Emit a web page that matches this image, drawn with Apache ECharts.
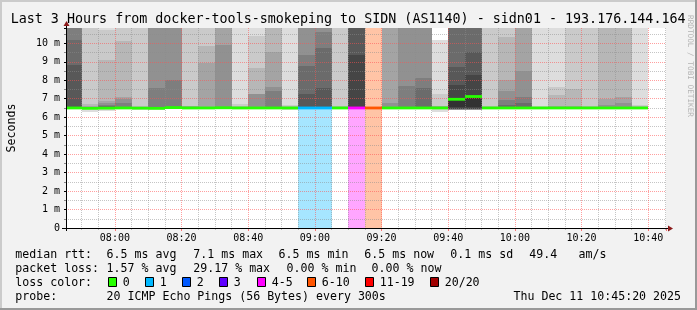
<!DOCTYPE html>
<html><head><meta charset="utf-8">
<script src="https://cdn.jsdelivr.net/npm/echarts@6/dist/echarts.min.js"></script>
<style>html,body{margin:0;padding:0;background:#f2f2f2}#c{width:697px;height:310px}</style>
</head><body><div id="c"></div>
<script>
// ---- data ----
const binTimes = ['07:45','07:50','07:55','08:00','08:05','08:10','08:15','08:20','08:25','08:30',
  '08:35','08:40','08:45','08:50','08:55','09:00','09:05','09:10','09:15','09:20',
  '09:25','09:30','09:35','09:40','09:45','09:50','09:55','10:00','10:05','10:10',
  '10:15','10:20','10:25','10:30','10:35'];
const medianMs = [6.5,6.48,6.49,6.5,6.49,6.48,6.52,6.5,6.5,6.51,
  6.5,6.5,6.5,6.5,6.5,6.5,6.5,6.5,6.5,6.5,
  6.5,6.5,6.5,6.97,7.12,6.5,6.5,6.5,6.5,6.5,
  6.5,6.5,6.5,6.5,6.5];
const lostPings = [0,0,0,0,0,0,0,0,0,0,
  0,0,0,0,1,1,0,4,6,0,
  0,0,0,0,0,0,0,0,0,0,
  0,0,0,0,0];
// 20 sorted ping rtts per bin (ms)
const pingsMs = [
  [6.44,6.45,6.46,6.46,6.47,6.47,6.48,6.48,6.49,6.49,6.5,6.52,8.83,10.18,11.3,11.9,12.6,13.4,14.8,17.2],
  [6.3,6.42,6.44,6.45,6.46,6.46,6.47,6.47,6.47,6.47,6.48,6.5,6.52,6.53,6.55,6.57,6.6,6.73,11.6,13.9],
  [6.32,6.42,6.44,6.45,6.46,6.46,6.47,6.47,6.48,6.48,6.49,6.52,6.55,6.6,6.68,6.76,6.88,9.1,10.72,11.9],
  [6.44,6.45,6.46,6.46,6.47,6.47,6.48,6.48,6.49,6.49,6.5,6.51,6.53,6.57,6.79,7.0,7.1,10.15,11.4,13.1],
  [6.4,6.44,6.45,6.46,6.46,6.47,6.47,6.48,6.48,6.49,6.49,6.5,6.51,6.52,6.53,6.54,6.56,6.6,11.8,14.2],
  [6.38,6.43,6.44,6.45,6.46,6.46,6.47,6.47,6.48,6.48,6.48,6.5,6.52,6.55,7.57,11.1,11.7,12.4,13.3,15.6],
  [6.46,6.47,6.48,6.48,6.49,6.49,6.5,6.5,6.51,6.51,6.52,6.53,6.54,6.56,8.02,11.2,11.9,12.7,13.8,16.1],
  [6.44,6.45,6.46,6.46,6.47,6.47,6.48,6.48,6.49,6.49,6.5,6.51,6.52,6.53,6.54,6.56,6.58,6.6,11.5,13.6],
  [6.44,6.45,6.46,6.46,6.47,6.47,6.48,6.48,6.49,6.49,6.5,6.51,6.52,6.53,6.54,6.56,8.95,9.85,11.3,13.2],
  [6.45,6.46,6.47,6.47,6.48,6.48,6.49,6.49,6.5,6.5,6.51,6.52,6.53,6.54,6.56,9.9,11.2,11.9,12.8,14.7],
  [6.44,6.45,6.46,6.46,6.47,6.47,6.48,6.48,6.49,6.49,6.5,6.51,6.52,6.53,6.54,6.55,6.56,6.6,6.7,12.3],
  [6.44,6.45,6.46,6.46,6.47,6.47,6.48,6.48,6.49,6.49,6.5,6.51,6.52,6.53,6.56,7.24,7.25,8.67,10.37,11.6],
  [6.44,6.45,6.46,6.46,6.47,6.47,6.48,6.48,6.49,6.49,6.5,6.51,6.52,6.56,7.43,7.62,9.55,11.4,12.2,13.8],
  [6.38,6.44,6.45,6.46,6.46,6.47,6.47,6.48,6.48,6.49,6.5,6.51,6.52,6.53,6.54,6.55,6.56,6.58,6.68,12.5],
  [6.44,6.45,6.46,6.46,6.47,6.47,6.48,6.48,6.49,6.49,6.5,6.56,7.25,8.77,9.37,11.3,11.9,12.7,13.6,15.2],
  [6.44,6.45,6.46,6.46,6.47,6.47,6.48,6.48,6.49,6.49,6.5,6.56,7.57,9.75,10.63,11.5,12.1,12.9,13.9,16.0],
  [6.44,6.45,6.46,6.46,6.47,6.47,6.48,6.48,6.49,6.49,6.5,6.51,6.52,6.53,6.54,6.55,6.57,6.6,11.7,14.1],
  [6.44,6.45,6.46,6.46,6.47,6.47,6.48,6.48,6.49,6.49,6.5,9.38,11.4,12.0,12.8,13.7,15.1,16.4,18.0,20.5],
  null,
  [6.44,6.45,6.46,6.46,6.47,6.47,6.48,6.48,6.49,6.49,6.5,6.51,6.52,6.54,6.56,6.79,11.3,12.0,12.9,14.4],
  [6.44,6.45,6.46,6.46,6.47,6.47,6.48,6.48,6.49,6.49,6.5,6.52,6.54,6.56,7.67,11.2,11.8,12.6,13.7,15.3],
  [6.44,6.45,6.46,6.46,6.47,6.47,6.48,6.48,6.49,6.49,6.5,6.52,6.56,7.6,8.1,11.3,11.9,12.8,13.9,15.8],
  [6.3,6.42,6.44,6.45,6.46,6.47,6.47,6.48,6.48,6.49,6.5,6.51,6.52,6.53,6.54,6.56,6.58,6.62,7.25,10.18],
  [6.38,6.39,6.4,6.41,6.41,6.42,6.42,6.42,6.43,6.57,6.97,7.73,8.73,11.2,11.8,12.5,13.3,14.2,15.6,18.0],
  [6.38,6.39,6.4,6.41,6.41,6.42,6.42,6.42,6.43,6.57,7.12,8.28,9.55,11.3,12.0,12.7,13.5,14.6,16.0,18.5],
  [6.44,6.45,6.46,6.46,6.47,6.47,6.48,6.48,6.49,6.49,6.5,6.51,6.52,6.53,6.54,6.55,6.56,6.58,11.6,13.8],
  [6.44,6.45,6.46,6.46,6.47,6.47,6.48,6.48,6.49,6.49,6.5,6.52,6.56,6.66,6.94,7.44,8.02,10.36,11.5,13.2],
  [6.44,6.45,6.46,6.46,6.47,6.47,6.48,6.48,6.49,6.49,6.5,6.52,6.55,6.79,7.08,8.52,11.3,12.0,12.9,14.6],
  [6.44,6.45,6.46,6.46,6.47,6.47,6.48,6.48,6.49,6.49,6.5,6.51,6.52,6.53,6.54,6.55,6.56,6.57,6.6,12.4],
  [6.44,6.45,6.46,6.46,6.47,6.47,6.48,6.48,6.49,6.49,6.5,6.51,6.52,6.53,6.54,6.55,6.6,7.2,7.65,11.9],
  [6.44,6.45,6.46,6.46,6.47,6.47,6.48,6.48,6.49,6.49,6.5,6.51,6.52,6.53,6.54,6.55,6.6,7.5,11.4,13.5],
  [6.44,6.45,6.46,6.46,6.47,6.47,6.48,6.48,6.49,6.49,6.5,6.51,6.52,6.53,6.54,6.55,6.57,6.6,11.6,13.7],
  [6.44,6.45,6.46,6.46,6.47,6.47,6.48,6.48,6.49,6.49,6.5,6.51,6.52,6.53,6.55,6.68,7.0,11.3,12.1,14.0],
  [6.44,6.45,6.46,6.46,6.47,6.47,6.48,6.48,6.49,6.49,6.5,6.51,6.52,6.53,6.55,6.76,7.11,11.4,12.2,14.3],
  [6.44,6.45,6.46,6.46,6.47,6.47,6.48,6.48,6.49,6.49,6.5,6.51,6.52,6.53,6.54,6.55,6.56,6.58,6.66,12.1]
];
const lossBuckets = [0,1,2,3,5,10,19,20];
const lossLabels = ['0','1','2','3','4-5','6-10','11-19','20/20'];
const lossColors = ['#26ff00','#00b8ff','#0059ff','#5e00ff','#ff00ff','#ff5500','#ff0000','#a10000'];
const smokeGrays = ['#dddddd','#cacaca','#b7b7b7','#a4a4a4','#919191','#7e7e7e','#6b6b6b','#585858','#454545','#323232'];
const titleText = 'Last 3 Hours from docker-tools-smokeping to SIDN (AS1140) - sidn01 - 193.176.144.164';
const statRows = [
  [['median rtt:',16],['6.5 ms avg',107.3],['7.1 ms max',194],['6.5 ms min',279.3],['6.5 ms now',365],['0.1 ms sd',451],['49.4',530],['am/s',579.3]],
  [['packet loss:',16],['1.57 % avg',107.3],['29.17 % max',194],['0.00 % min',287.3],['0.00 % now',372.3]],
  [['loss color:',16]],
  [['probe:',16],['20 ICMP Echo Pings (56 Bytes) every 300s',107.3]]
];
const dateText = 'Thu Dec 11 10:45:20 2025';

// ---- helpers ----
const toMin = s => { const p = s.split(':'); return +p[0]*60 + +p[1]; };
const X_MIN = toMin('07:45') + 20/60;
const X_MAX = X_MIN + 180;
const Y_MAX = 10.83;
const STEP = 5;
const MONO = '"DejaVu Sans Mono"';
const lossIndex = n => { for (let k = 0; k < lossBuckets.length; k++) if (n <= lossBuckets[k]) return k; return lossBuckets.length-1; };
const pad = n => (n < 10 ? '0' : '') + n;

const binData = binTimes.map((t, i) => [toMin(t), toMin(t) + STEP, medianMs[i], i]);

function xRange(api, s, e) {
  const x0 = Math.round(api.coord([Math.max(s, X_MIN), 0])[0]);
  const x1 = Math.round(api.coord([Math.min(e, X_MAX), 0])[0]);
  return [x0, x1];
}
function yPix(api, v) {
  return Math.round(api.coord([X_MIN, Math.min(Math.max(v, 0), Y_MAX)])[1]);
}

function renderSmoke(params, api) {
  const i = api.value(3);
  const [x0, x1] = xRange(api, api.value(0), api.value(1));
  const children = [];
  const lost = lostPings[i];
  if (lost > 0) {
    const yt = yPix(api, Y_MAX), yb = yPix(api, 0);
    children.push({type:'rect', shape:{x:x0, y:yt, width:x1-x0, height:yb-yt},
      style:{fill: lossColors[lossIndex(lost)], opacity:0.35}});
  }
  const p = pingsMs[i];
  if (p) {
    for (let j = 1; j < p.length; j++) {
      const layer = Math.min(j, p.length - j);
      const yl = yPix(api, p[j-1]), yh = yPix(api, p[j]);
      if (yl - yh >= 1) {
        children.push({type:'rect', shape:{x:x0, y:yh, width:x1-x0, height:yl-yh},
          style:{fill: smokeGrays[layer-1]}});
      }
    }
  }
  return {type:'group', children};
}
function renderMedian(params, api) {
  const i = api.value(3);
  const [x0, x1] = xRange(api, api.value(0), api.value(1));
  const y = api.coord([X_MIN, api.value(2)])[1];
  return {type:'rect', shape:{x:x0, y:y-1.4, width:x1-x0, height:2.8},
    style:{fill: lossColors[lossIndex(lostPings[i])]}};
}

// ---- graphic texts ----
const graphics = [];
graphics.push({type:'text', z:50, style:{text:titleText, x:10.7, y:19.8, font:'13.35px '+MONO, fill:'#000', verticalAlign:'middle'}});
const rowY = [255.2, 269.2, 283.2, 297.2];
statRows.forEach((row, r) => row.forEach(([t, x]) => {
  graphics.push({type:'text', z:50, style:{text:t, x:x-0.7, y:rowY[r], font:'11.6px '+MONO, fill:'#000', verticalAlign:'middle'}});
}));
graphics.push({type:'text', z:50, style:{text:dateText, x:681, y:rowY[3], font:'11.6px '+MONO, fill:'#000', align:'right', verticalAlign:'middle'}});
const boxX = [108.5,145.5,182.5,219.5,257.5,307.5,365.5,430.5];
lossLabels.forEach((lab, k) => {
  graphics.push({type:'rect', z:50, shape:{x:boxX[k], y:277.5, width:8, height:9}, style:{fill:lossColors[k], stroke:'#000', lineWidth:1}});
  graphics.push({type:'text', z:50, style:{text:lab, x:boxX[k]+14.2, y:rowY[2], font:'11.6px '+MONO, fill:'#000', verticalAlign:'middle'}});
});
graphics.push({type:'text', z:50, x:690, y:66, rotation:-Math.PI/2, style:{text:'RRDTOOL / TOBI OETIKER', x:0, y:0, font:'7.7px '+MONO, fill:'#b4b4b4', align:'center', verticalAlign:'middle'}});
// frame shading
graphics.push({type:'rect', z:50, shape:{x:0,y:0,width:2,height:310}, style:{fill:'#cbcbcb'}});
graphics.push({type:'rect', z:50, shape:{x:0,y:0,width:697,height:2}, style:{fill:'#cbcbcb'}});
graphics.push({type:'rect', z:50, shape:{x:695,y:0,width:2,height:310}, style:{fill:'#999999'}});
graphics.push({type:'rect', z:50, shape:{x:0,y:308,width:697,height:2}, style:{fill:'#999999'}});
// axis arrows & extensions
graphics.push({type:'line', z:50, shape:{x1:62,y1:228.5,x2:668,y2:228.5}, style:{stroke:'#000', lineWidth:1}});
graphics.push({type:'line', z:50, shape:{x1:66.5,y1:231,x2:66.5,y2:24}, style:{stroke:'#000', lineWidth:1}});
graphics.push({type:'polygon', z:50, shape:{points:[[668,225.5],[668,231.5],[673,228.5]]}, style:{fill:'#8b1a1a'}});
graphics.push({type:'polygon', z:50, shape:{points:[[63.5,26],[69.5,26],[66.5,21]]}, style:{fill:'#8b1a1a'}});

const chart = echarts.init(document.getElementById('c'), null, {renderer:'canvas'});
chart.setOption({
  animation:false,
  backgroundColor:'#f2f2f2',
  grid:{left:66, top:28, width:600, height:200, show:true, backgroundColor:'#ffffff', borderWidth:0,
    containLabel:false, outerBoundsMode:'none'},
  xAxis:{
    type:'value', min:X_MIN, max:X_MAX, splitNumber:9, minInterval:20, maxInterval:20, z:5,
    axisLine:{show:true, onZero:false, lineStyle:{color:'#000', width:1}},
    axisTick:{show:true, length:3, lineStyle:{color:'rgba(255,60,60,0.7)'}},
    minorTick:{show:true, splitNumber:4, length:2, lineStyle:{color:'#bbbbbb'}},
    axisLabel:{showMinLabel:false, showMaxLabel:false, margin:5, color:'#000', fontFamily:MONO, fontSize:10,
      formatter: v => pad(Math.floor(v/60)) + ':' + pad(Math.round(v % 60))},
    splitLine:{show:true, showMinLine:false, showMaxLine:false, lineStyle:{color:'rgba(255,80,80,0.55)', type:[1,1], width:1}},
    minorSplitLine:{show:true, lineStyle:{color:'rgba(140,140,140,0.5)', type:[1,1], width:1}}
  },
  yAxis:{
    type:'value', min:0, max:Y_MAX, interval:1, z:5,
    name:'Seconds', nameLocation:'middle', nameGap:48,
    nameTextStyle:{fontFamily:MONO, fontSize:11.6, color:'#000'},
    axisLine:{show:true, lineStyle:{color:'#000', width:1}},
    axisTick:{show:true, length:2, lineStyle:{color:'#000'}},
    minorTick:{show:true, splitNumber:2, length:2, lineStyle:{color:'#888'}},
    axisLabel:{showMaxLabel:false, margin:6, color:'#000', fontFamily:MONO, fontSize:10,
      formatter: v => v === 0 ? '0' : v + ' m'},
    splitLine:{show:true, showMinLine:false, showMaxLine:false, lineStyle:{color:'rgba(255,80,80,0.55)', type:[1,1], width:1}},
    minorSplitLine:{show:true, lineStyle:{color:'rgba(140,140,140,0.5)', type:[1,1], width:1}}
  },
  series:[
    {type:'custom', name:'smoke', z:1, renderItem:renderSmoke, data:binData, encode:{x:[0,1], y:2}, silent:true},
    {type:'custom', name:'median', z:10, renderItem:renderMedian, data:binData, encode:{x:[0,1], y:2}, silent:true}
  ],
  graphic: graphics
});
</script></body></html>
